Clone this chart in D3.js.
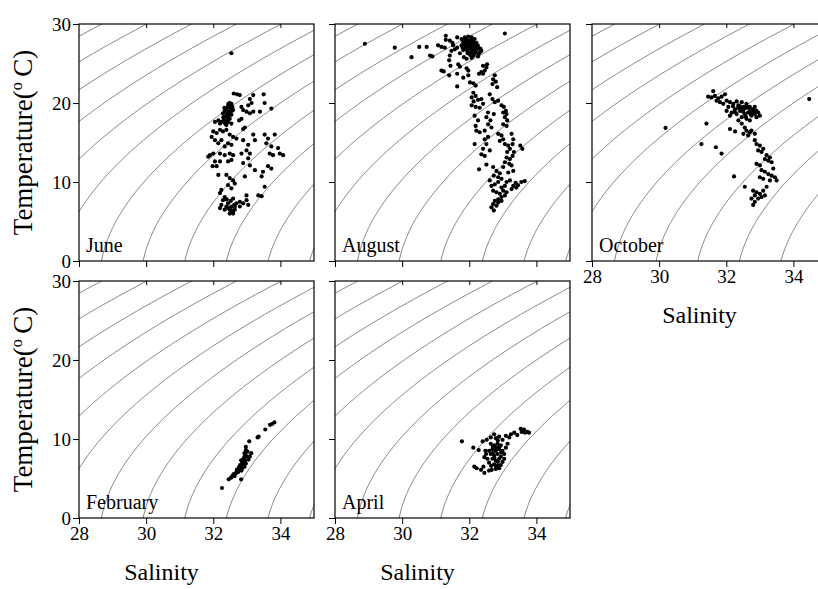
<!DOCTYPE html>
<html><head><meta charset="utf-8">
<script src="https://cdn.jsdelivr.net/npm/d3@7"></script>
<style>body{margin:0;background:#fff}svg{display:block}
text{font-family:"Liberation Serif","Times New Roman",Times,"DejaVu Serif",serif;}</style>
</head><body>
<svg id="c" width="818" height="589"></svg>
<script>
// ---------- data ----------
const salinityTicks = [28, 30, 32, 34];
const temperatureTicks = [0, 10, 20, 30];
const sigmaLevels = [17, 18, 19, 20, 21, 22, 23, 24, 25, 26, 27, 28];
const monthNames = ["June", "August", "October", "February", "April"];

const juneData = [
[32.54,26.3],[32.61,21.2],[32.71,21.1],[32.79,21.0],[33.19,21.0],[33.50,21.1],[33.53,20.0],[33.09,20.5],[33.14,20.0],[33.04,19.7],[33.73,19.3],
[32.49,20.0],[32.54,19.9],[32.44,19.6],[32.39,19.3],[32.51,19.3],[32.34,19.0],[32.47,18.9],[32.29,18.7],[32.41,18.6],[32.54,18.5],[32.37,18.3],[32.49,18.0],[32.31,17.8],[32.44,17.6],[32.24,17.6],[32.54,17.4],[32.39,17.2],[32.20,17.4],[32.05,17.6],[32.15,17.8],[32.47,19.7],[32.57,19.5],[32.59,19.1],[32.43,18.2],[32.35,17.4],
[32.45,19.9],[32.40,19.0],[32.50,18.7],[32.30,18.2],[32.45,18.4],[32.38,17.8],[32.55,19.0],[32.33,19.4],
[32.84,19.5],[32.89,19.1],[32.84,18.0],[32.77,17.8],[32.99,18.9],[33.09,18.7],[33.19,18.9],[33.39,18.9],[32.94,16.9],[32.89,16.7],
[32.00,16.4],[31.95,15.7],[32.10,16.2],[32.20,16.6],[32.29,16.4],[32.39,16.6],[32.49,16.0],[32.59,15.7],[32.69,15.5],
[32.05,15.3],[32.15,14.9],[32.24,15.3],[32.44,14.9],[32.54,14.7],[32.34,14.5],
[32.89,15.3],[33.04,14.7],[32.99,14.0],[33.09,13.6],[32.84,13.6],
[33.19,16.0],[33.24,15.3],[33.53,16.0],[33.63,15.5],[33.83,16.0],[33.58,14.9],[33.73,14.5],[33.93,14.3],[33.68,13.6],[33.78,13.4],[33.98,13.6],[34.08,13.4],
[31.90,13.4],[32.00,13.6],[31.85,13.2],[32.20,13.6],[32.34,13.4],[32.49,13.6],[32.59,13.4],[32.54,12.8],[32.44,12.6],[32.20,12.6],[32.05,12.6],[31.98,12.0],[32.10,12.0],
[33.04,13.0],[33.09,12.1],[33.24,11.5],[32.89,12.4],
[33.63,12.0],[33.73,11.7],[33.48,11.3],[33.44,10.7],
[32.15,10.9],[32.39,10.9],[32.49,10.5],[32.59,10.2],[32.64,9.8],[32.44,9.6],[32.54,9.2],[32.94,10.7],
[32.24,9.0],[32.20,8.6],[32.34,8.1],[32.29,7.7],[32.24,7.1],[32.39,6.9],[32.49,6.5],[32.59,6.0],[32.64,6.5],[32.69,7.3],[32.59,7.9],[32.79,7.5],[32.89,7.3],[32.99,7.7],[33.04,7.1],[32.79,6.9],[32.44,7.3],[32.54,6.9],[32.64,6.9],[32.34,6.5],[32.20,6.7],[32.49,6.0],[32.59,6.2],
[32.45,6.7],[32.55,6.4],[32.62,7.1],[32.52,7.6],[32.40,7.8],
[33.34,8.3],[33.44,8.2],[33.53,9.4],[32.99,8.3]
];

const augustData = [
[28.89,27.5],[29.78,27.0],[30.28,25.8],[30.51,27.1],[30.73,27.1],[30.83,26.0],[30.90,25.9],[31.07,27.3],[31.17,27.1],[31.27,27.0],[31.30,28.5],[31.30,28.0],[31.42,27.9],[31.50,27.6],[31.52,27.3],[31.57,26.8],[31.64,27.0],
[31.77,28.1],[31.87,28.3],[31.97,28.4],[32.07,28.3],[32.16,28.1],[31.82,27.7],[31.92,27.8],[32.02,27.9],[32.12,27.7],[32.21,27.6],[31.77,27.3],[31.87,27.1],[31.97,27.4],[32.07,27.3],[32.16,27.1],[32.26,27.0],[31.82,26.7],[31.94,26.6],[32.07,26.7],[32.19,26.5],[32.31,26.4],[32.02,26.1],[32.13,26.0],[32.26,25.9],[32.36,26.6],[31.92,25.6],[31.84,25.8],[32.07,25.7],[31.64,28.3],[31.72,26.3],
[31.92,28.0],[32.02,27.6],[31.87,27.5],[32.12,27.4],[32.00,26.9],[32.22,26.8],[31.95,26.3],[32.16,26.3],
[31.85,27.9],[31.95,27.2],[32.05,27.0],[32.10,28.0],[32.25,27.3],[32.18,26.9],[32.28,26.2],[31.90,26.9],[32.05,26.4],[32.33,26.9],[31.80,27.0],[32.10,26.6],
[31.47,26.6],[31.42,26.0],[31.40,25.4],[31.44,24.7],[31.67,24.9],[31.72,24.6],[31.17,24.1],[31.24,24.0],[31.40,23.5],[31.64,23.7],[31.64,22.1],[31.82,23.2],[31.97,23.5],[32.02,22.6],[32.12,22.5],[32.19,22.2],[31.92,24.4],[31.97,24.1],
[32.41,24.7],[32.51,24.5],[32.46,24.1],[32.36,23.9],[32.29,23.7],[32.41,23.7],[32.53,24.9],
[32.76,23.5],[32.71,23.0],[32.79,22.7],[32.69,22.4],[32.83,22.0],
[32.12,21.3],[32.07,20.7],[32.19,20.9],[32.13,20.2],[32.26,20.4],[32.07,19.7],[32.19,19.5],[32.31,19.4],[32.41,19.9],[32.36,20.5],
[32.61,21.1],[32.69,20.5],[32.76,20.1],[32.86,20.3],
[32.96,19.7],[33.03,19.5],[33.09,19.0],[33.01,18.8],[33.11,18.6],[33.06,18.2],[33.13,17.8],[33.01,17.3],[33.11,17.1],
[32.56,18.8],[32.51,18.2],[32.63,17.8],[32.56,17.3],[32.66,16.9],[32.73,18.6],
[32.16,18.4],[32.26,17.8],[32.19,17.1],[32.21,16.5],[32.31,16.3],[32.46,16.5],
[32.46,15.4],[32.56,15.7],[32.51,14.8],[32.41,14.2],[32.61,14.0],
[32.16,14.8],[32.36,13.5],[32.46,13.3],
[32.86,16.1],[32.96,15.9],[33.01,15.4],[32.91,15.2],[33.06,14.8],[33.16,14.6],[33.26,16.1],[33.31,15.4],[33.29,14.8],[33.21,14.2],[33.33,13.8],[33.13,13.8],
[33.11,13.1],[33.21,12.9],[33.29,13.3],[33.06,12.5],[33.19,12.3],[33.26,12.1],[33.31,11.4],[33.16,11.2],
[32.29,11.6],[32.51,12.2],[32.71,11.9],[32.81,11.4],[32.91,11.1],[33.01,11.9],[32.73,10.8],[32.86,10.6],[32.96,10.4],
[32.61,10.2],[32.66,9.5],[32.76,9.7],[32.86,10.0],[32.96,9.3],[33.06,9.5],[33.11,10.0],[33.21,10.2],[33.31,9.5],[33.40,9.3],[33.26,9.1],
[32.71,8.9],[32.81,8.7],[32.91,8.5],[33.01,8.9],[32.96,8.1],[32.86,7.8],[32.76,7.6],[32.71,7.2],[32.81,7.0],[32.66,6.8],[32.73,6.4],[32.86,7.4],[32.96,7.6],[33.06,8.3],[33.11,8.7],
[33.58,14.2],[33.52,14.6],[33.65,10.1],[33.55,10.0],[33.45,9.6],[33.38,9.9],
[33.06,28.8]
];

const octoberData = [
[30.19,16.85],[34.47,20.5],
[31.61,21.5],[31.46,20.8],[31.56,20.7],[31.66,20.9],[31.76,20.6],[31.86,20.8],[31.71,20.3],[31.81,20.1],[31.91,19.9],[31.96,21.1],
[32.01,20.3],[32.11,20.1],[32.06,19.5],[32.21,19.9],[32.31,20.2],[32.36,19.7],[32.46,20.1],[32.51,19.5],[32.60,19.9],[32.70,19.5],[32.80,19.2],[32.90,19.0],[32.85,18.6],[32.75,18.4],[32.65,18.8],[32.55,18.6],[32.41,19.0],[32.26,19.2],[32.16,18.8],[32.01,19.0],[32.11,18.4],[32.31,18.6],[32.46,18.2],[32.60,18.0],[32.70,17.8],[32.90,18.2],[32.95,18.8],[33.00,18.4],
[32.40,19.6],[32.55,19.3],[32.70,19.0],[32.80,18.8],[32.65,19.4],[32.50,18.9],[32.85,19.5],[32.20,19.6],
[32.45,19.3],[32.60,19.6],[32.75,19.2],[32.35,19.4],[32.58,18.3],[32.88,18.9],[32.72,18.6],[32.25,18.9],
[32.36,17.8],[32.46,17.4],[32.55,16.9],[32.60,16.5],[32.70,16.3],[32.51,16.1],[32.65,15.9],[32.75,16.5],[32.85,16.1],
[31.41,17.4],[32.11,16.7],[32.26,16.4],[31.69,14.4],[31.86,13.6],[31.26,14.8],[32.23,10.7],[32.55,9.4],
[32.85,15.3],[32.90,14.8],[33.00,14.6],[32.95,14.0],[33.05,13.8],[33.10,14.2],[33.20,13.4],[33.15,12.9],[33.25,12.7],[33.35,12.5],[33.30,13.1],
[32.90,12.3],[33.00,12.1],[33.05,11.5],[33.15,11.3],[33.25,11.0],[33.35,10.8],[33.45,10.6],[33.40,11.7],[33.50,10.2],[33.30,10.2],[33.10,10.4],[33.00,10.6],
[32.80,8.9],[32.90,8.7],[33.00,8.5],[33.10,8.9],[33.05,8.1],[32.95,7.9],[32.85,8.3],[32.75,7.9],[33.15,8.3],[33.20,9.4],[32.85,7.5],[32.80,7.1]
];

const februaryData = [
[32.26,3.8],[32.46,4.9],[32.53,5.1],[32.83,4.9],[32.58,5.4],[32.66,5.6],[32.73,5.8],[32.78,6.1],[32.86,6.3],[32.80,6.7],[32.88,6.9],[32.83,7.3],[32.90,7.5],[32.86,7.1],[32.76,6.4],[32.70,6.1],[32.93,6.5],[32.97,6.9],[32.95,7.3],[32.99,7.8],[32.93,8.2],[32.97,8.6],[33.02,8.4],[32.97,9.0],[33.07,9.7],[33.32,10.2],[33.35,10.3],[33.55,11.2],[33.69,11.8],[33.75,11.9],[33.82,12.1],[33.09,7.8],[33.05,7.4],[32.63,5.3],[33.13,8.2],
[32.82,6.5],[32.90,7.0],[32.75,5.9],[32.85,6.8],[32.92,7.7],[32.68,5.7],[32.62,5.6],[32.95,8.0],
[32.88,7.3],[32.78,6.3],[32.84,6.0],[32.72,6.0]
];

const aprilData = [
[31.78,9.7],[32.12,8.9],[32.28,8.6],
[32.15,6.5],[32.22,6.3],[32.35,6.1],[32.42,6.5],[32.45,5.7],[32.59,6.0],[32.67,6.1],
[32.45,7.7],[32.50,8.1],[32.48,8.5],
[32.40,9.7],[32.52,9.9],[32.64,10.2],[32.74,10.6],[32.79,10.1],[32.89,10.3],[32.99,9.9],[33.09,10.4],[33.19,10.2],[33.24,10.6],[33.34,10.8],[33.43,10.5],[33.53,11.3],[33.63,11.2],[33.73,10.9],[33.78,10.8],[33.66,10.8],[33.56,10.9],
[32.64,9.4],[32.74,9.2],[32.84,9.4],[32.94,9.2],[32.69,8.7],[32.79,8.5],[32.89,8.7],[32.99,8.5],[32.64,8.1],[32.74,7.9],[32.84,8.1],[32.94,7.8],[33.04,8.1],[32.69,7.5],[32.79,7.25],[32.89,7.5],[32.99,7.1],[32.74,6.8],[32.84,6.6],[32.94,6.7],[32.79,6.2],[32.89,6.3],[32.59,7.0],[32.54,7.5],[33.09,8.9],[33.14,9.4],[32.59,8.5],[33.04,7.5],
[32.70,8.2],[32.80,8.9],[32.90,9.0],[32.75,7.6],[32.85,7.1],[32.95,8.3],[32.70,9.0],[32.85,9.8],[32.80,6.5],[32.65,6.6]
];

// ---------- layout ----------
const panels = [
  {name: monthNames[0], data: juneData,     x: 79,  y: 24,  w: 235, h: 237, yLabels: true,  xLabels: false},
  {name: monthNames[1], data: augustData,   x: 335, y: 24,  w: 235, h: 237, yLabels: false, xLabels: false},
  {name: monthNames[2], data: octoberData,  x: 592, y: 24,  w: 235, h: 237, yLabels: false, xLabels: true},
  {name: monthNames[3], data: februaryData, x: 79,  y: 281, w: 235, h: 237, yLabels: true,  xLabels: true},
  {name: monthNames[4], data: aprilData,    x: 335, y: 281, w: 235, h: 237, yLabels: false, xLabels: true}
];

const FONT = '"Liberation Serif","Times New Roman",Times,"DejaVu Serif",serif';

// UNESCO EOS-80 surface density anomaly (sigma-t)
function sigmaT(S, T) {
  const rw = 999.842594 + 6.793952e-2*T - 9.095290e-3*T*T + 1.001685e-4*T**3 - 1.120083e-6*T**4 + 6.536332e-9*T**5;
  const A = 8.24493e-1 - 4.0899e-3*T + 7.6438e-5*T*T - 8.2467e-7*T**3 + 5.3875e-9*T**4;
  const B = -5.72466e-3 + 1.0227e-4*T - 1.6546e-6*T*T;
  return rw + A*S + B*Math.pow(S, 1.5) + 4.8314e-4*S*S - 1000;
}
function salinityFor(level, T) {
  let lo = 0, hi = 60;
  if (sigmaT(lo, T) > level || sigmaT(hi, T) < level) return NaN;
  for (let i = 0; i < 50; i++) {
    const mid = (lo + hi) / 2;
    if (sigmaT(mid, T) < level) lo = mid; else hi = mid;
  }
  return (lo + hi) / 2;
}
const tempSteps = d3.range(0, 30.001, 0.25);
const isopycnals = sigmaLevels.map(lv => tempSteps.map(t => [salinityFor(lv, t), t]));

const svg = d3.select("#c");

panels.forEach((p, i) => {
  const g = svg.append("g").attr("transform", `translate(${p.x},${p.y})`);
  const x = d3.scaleLinear().domain([28, 35]).range([0, p.w]);
  const y = d3.scaleLinear().domain([0, 30]).range([p.h, 0]);

  const clipId = "clip" + i;
  g.append("clipPath").attr("id", clipId).append("rect").attr("width", p.w).attr("height", p.h);

  const line = d3.line().defined(d => !isNaN(d[0])).x(d => x(d[0])).y(d => y(d[1]));
  g.append("g").attr("clip-path", `url(#${clipId})`)
    .selectAll("path").data(isopycnals).join("path")
    .attr("d", line).attr("fill", "none").attr("stroke", "#555").attr("stroke-width", 0.7);

  const yAxis = d3.axisLeft(y).tickValues(temperatureTicks).tickSize(6).tickPadding(2)
    .tickFormat(p.yLabels ? d3.format("d") : "");
  const ya = g.append("g").call(yAxis);
  const xAxis = d3.axisBottom(x).tickValues(salinityTicks).tickSize(6).tickPadding(3)
    .tickFormat(p.xLabels ? d3.format("d") : "");
  const xa = g.append("g").attr("transform", `translate(0,${p.h})`).call(xAxis);
  const xTop = d3.axisBottom(x).tickValues(salinityTicks.slice(1)).tickSize(4).tickFormat("");
  const xt = g.append("g").call(xTop);
  [ya, xa, xt].forEach(a => {
    a.attr("font-family", null);
    a.select(".domain").remove();
    a.selectAll("line").attr("stroke", "#000").attr("stroke-width", 1);
    a.selectAll("text").style("font-family", FONT).attr("font-size", 19).attr("fill", "#000");
  });

  g.append("rect").attr("width", p.w).attr("height", p.h)
    .attr("fill", "none").attr("stroke", "#000").attr("stroke-width", 1.2);

  g.append("g").selectAll("circle").data(p.data).join("circle")
    .attr("cx", d => x(d[0])).attr("cy", d => y(d[1])).attr("r", 2.1).attr("fill", "#000");

  g.append("text").attr("x", 7).attr("y", p.h - 9).text(p.name)
    .style("font-family", FONT).attr("font-size", 20).attr("fill", "#000");

  if (p.yLabels) {
    const t = g.append("text").attr("transform", `translate(${-47},${p.h/2}) rotate(-90)`)
      .attr("text-anchor", "middle").style("font-family", FONT).attr("font-size", 27).attr("fill", "#000");
    t.append("tspan").text("Temperature(");
    t.append("tspan").text("o").attr("font-size", 16).attr("dy", -10);
    t.append("tspan").text("\u2009C)").attr("dy", 10);
  }
  if (p.xLabels) {
    g.append("text").attr("x", p.w/2 - (i === 2 ? 10 : 35)).attr("y", p.h + 62)
      .attr("text-anchor", "middle").style("font-family", FONT).attr("font-size", 24).attr("fill", "#000")
      .text("Salinity");
  }
});
</script></body></html>
